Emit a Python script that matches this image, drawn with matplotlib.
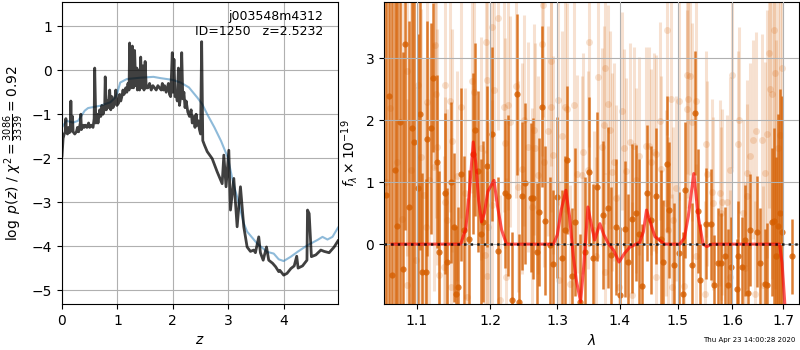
import numpy as np
import matplotlib
matplotlib.use("Agg")
import matplotlib.pyplot as plt
from matplotlib.ticker import FixedLocator, FormatStrFormatter, NullLocator

# ---- left panel: log p(z) ----
z_pz = [0.00, 0.02, 0.04, 0.06, 0.07, 0.08, 0.10, 0.12, 0.13, 0.15, 0.16, 0.17, 0.19, 0.20, 0.23,
        0.26, 0.28, 0.30, 0.33, 0.34, 0.35, 0.38, 0.40, 0.42, 0.45, 0.48, 0.50, 0.53, 0.56, 0.58,
        0.59, 0.61, 0.63, 0.65, 0.68, 0.70, 0.72, 0.74, 0.77, 0.78, 0.80, 0.82, 0.84, 0.86, 0.88,
        0.90, 0.92, 0.95, 0.97, 0.99, 1.02, 1.04, 1.06, 1.08, 1.10, 1.12, 1.15, 1.17, 1.19, 1.21,
        1.22, 1.24, 1.26, 1.27, 1.29, 1.31, 1.33, 1.35, 1.36, 1.38, 1.40, 1.42, 1.44, 1.46, 1.48,
        1.50, 1.52, 1.55, 1.58, 1.61, 1.64, 1.67, 1.70, 1.73, 1.76, 1.79, 1.81, 1.83, 1.85, 1.88,
        1.90, 1.92, 1.94, 1.96, 1.99, 2.00, 2.02, 2.04, 2.06, 2.08, 2.10, 2.12, 2.14, 2.16, 2.18,
        2.20, 2.22, 2.24, 2.27, 2.30, 2.33, 2.35, 2.38, 2.40, 2.42, 2.44, 2.46, 2.48, 2.50, 2.52,
        2.54, 2.57, 2.62, 2.71, 2.80, 2.89, 2.92, 2.96, 3.01, 3.04, 3.10, 3.16, 3.22, 3.28, 3.34,
        3.40, 3.46, 3.49, 3.55, 3.58, 3.63, 3.69, 3.73, 3.80, 3.855, 3.91, 3.93, 4.00, 4.06, 4.13,
        4.19, 4.235, 4.26, 4.34, 4.42, 4.43, 4.46, 4.50, 4.58, 4.67, 4.73, 4.82, 4.91, 4.98]
logp = [-1.95, -1.55, -1.45, -1.40, -1.10, -1.42, -1.45, -1.30, -1.42, -1.40, -0.70, -1.35, -1.05, -1.40, -1.45,
        -1.40, -1.30, -1.40, -1.20, -1.00, -1.35, -1.25, -1.30, -1.25, -1.30, -1.20, -1.30, -1.25, -1.30, -1.10,
        0.05, -1.20, -1.00, -1.20, -0.90, -1.05, -0.80, -1.00, -0.85, -0.15, -0.90, -0.70, -0.85, -0.45, -0.90,
        -0.60, -0.85, -0.75, -0.45, -0.80, -0.75, -0.55, -0.70, -0.60, -0.45, -0.55, -0.40, -0.50, -0.30, -0.45,
        0.62, -0.30, -0.40, 0.55, -0.40, 0.45, -0.35, 0.05, -0.45, 0.00, -0.45, 0.30, -0.40, 0.10, -0.45,
        0.20, -0.40, -0.40, -0.30, -0.45, -0.35, -0.40, -0.45, -0.35, -0.40, -0.45, -0.30, -0.45, -0.35, -0.50,
        -0.40, -0.30, -0.55, -0.60, 0.40, -0.50, 0.25, -0.60, -0.55, -0.70, 0.05, -0.80, -0.60, 0.40, -0.65,
        -0.50, -0.85, -0.70, -0.95, -1.05, -0.90, -1.20, -1.05, -1.30, -1.00, -1.25, -1.15, -1.35, -1.45, 0.65,
        -1.60, -1.70, -1.85, -2.01, -2.31, -2.58, -1.93, -2.65, -1.82, -3.18, -2.46, -3.56, -2.65, -3.56, -4.02,
        -4.12, -4.09, -4.15, -3.79, -4.15, -4.32, -4.02, -4.32, -4.39, -4.47, -4.58, -4.55, -4.66, -4.62, -4.51,
        -4.45, -4.23, -4.50, -4.45, -4.32, -3.18, -3.26, -4.24, -4.20, -4.09, -4.12, -4.15, -4.02, -3.88]

z_prior = [0.00, 0.08, 0.20, 0.29, 0.41, 0.47, 0.68, 0.87, 0.96, 1.00, 1.05, 1.17, 1.41, 1.65, 1.78,
           2.00, 2.14, 2.29, 2.44, 2.53, 2.62, 2.75, 2.87, 2.99, 3.10, 3.16, 3.28, 3.34, 3.52, 3.70,
           3.82, 3.91, 4.00, 4.13, 4.25, 4.43, 4.61, 4.70, 4.79, 4.88, 4.98]
logp_prior = [-1.30, -1.15, -1.19, -1.15, -0.92, -0.86, -0.81, -0.73, -0.62, -0.51, -0.28, -0.20, -0.17, -0.15, -0.18,
              -0.22, -0.28, -0.39, -0.62, -0.77, -1.00, -1.30, -1.61, -1.98, -2.62, -2.88, -3.48, -3.67, -3.94, -4.13,
              -4.17, -4.30, -4.34, -4.24, -4.13, -3.98, -3.86, -3.79, -3.85, -3.79, -3.58]

# ---- right panel: spectrum ----
# binned (dark) points: wavelength, flux, error
lam_bin = [1.0600, 1.0640, 1.0680, 1.0713, 1.0750, 1.0784, 1.0818, 1.0851, 1.0895, 1.0935, 1.0965, 1.1010, 1.1040,
           1.1073, 1.1118, 1.1139, 1.1184, 1.1218, 1.1264, 1.1299,
           1.1370, 1.1405, 1.1453, 1.1493, 1.1520, 1.1551, 1.1596, 1.1637, 1.1708,
           1.1755, 1.1792, 1.1834, 1.1868, 1.1904, 1.1953, 1.2024, 1.2110,
           1.2216, 1.2264, 1.2313, 1.2396, 1.2426, 1.2470, 1.2509, 1.2594, 1.2633, 1.2684,
           1.2719, 1.2769, 1.2810, 1.2886, 1.2937, 1.2989, 1.3066, 1.3118, 1.3154, 1.3232,
           1.3275, 1.3354, 1.3433, 1.3502, 1.3557, 1.3622, 1.3728, 1.3801, 1.3855, 1.3937,
           1.4007, 1.4090, 1.4146, 1.4213, 1.4269, 1.4324, 1.4381, 1.4455, 1.4524, 1.4622,
           1.4697, 1.4737, 1.4802, 1.4854, 1.4930, 1.5019, 1.5097, 1.5139, 1.5252, 1.5310,
           1.5373, 1.5402, 1.5508, 1.5601, 1.5663, 1.5745, 1.5793, 1.5869, 1.5932, 1.5976,
           1.6089, 1.6121, 1.6185, 1.6249, 1.6315, 1.6346, 1.6477, 1.6543, 1.6630, 1.6675,
           1.6776, 1.6823, 1.6864, 1.6900, 1.6940, 1.6980, 1.7176]
flux_bin = [0.80, 2.40, -0.50, 1.20, 0.30, 1.98, -0.40, 3.23, 0.60, 1.88, 1.65, 0.90, 2.10,
            -0.45, -0.45, 1.70, 1.87, 2.69, 1.33, -0.12,
            0.82, -0.29, 1.00, 0.27, -0.80, -0.70, 1.13, 0.23, 0.09,
            1.46, 1.85, 1.18, 0.17, 0.36, 1.26, 1.78, -0.11,
            0.82, 0.78, -0.90, 2.42, -0.93, 0.78, 0.98, 0.75, 0.74, -0.12,
            0.52, 2.22, 0.38, -0.02, -0.32, 0.76, -0.23, 0.23, 1.36, -0.52,
            0.36, -0.93, -0.12, 1.17, -0.23, 0.93, 0.47, 0.59, -0.18, 0.28,
            -0.82, 0.24, -0.29, 0.41, 0.50, 0.17, -0.68, 0.83, 0.39, 0.78,
            0.09, -0.29, 1.30, 0.55, -0.34, -0.15, -0.81, 0.87, -0.34, 2.12,
            0.54, -0.58, 0.33, 0.32, -0.66, -0.31, -0.30, -0.20, -0.66, -0.37,
            -0.72, -0.20, -0.37, 0.06, -0.79, 0.23, 0.20, -0.31, -0.65, -0.66,
            0.36, 0.38, -0.20, 0.30, 0.50, 0.20, -0.20]
err_bin = [5.0, 5.0, 5.0, 4.0, 4.0, 3.5, 3.5, 3.0, 3.0, 3.0, 2.8, 2.5, 2.2,
           1.6, 1.5, 1.9, 1.7, 1.2, 1.4, 1.3,
           1.3, 1.2, 1.3, 1.2, 1.1, 1.3, 1.4, 1.2, 1.1,
           1.3, 1.4, 1.3, 1.2, 1.3, 1.3, 1.4, 1.2,
           1.2, 1.3, 1.1, 1.3, 1.1, 1.2, 1.3, 1.2, 1.3, 1.1,
           1.2, 1.3, 1.2, 1.1, 1.2, 1.3, 1.1, 1.2, 1.2, 1.1,
           1.2, 1.1, 1.2, 1.2, 1.2, 1.2, 1.2, 1.3, 1.1, 1.1,
           1.1, 1.1, 1.1, 1.2, 1.1, 1.2, 1.0, 1.1, 1.2, 1.1,
           1.1, 1.0, 1.1, 1.1, 1.0, 1.0, 1.0, 1.1, 1.0, 1.0,
           1.0, 0.9, 0.9, 0.9, 0.8, 0.9, 0.8, 0.8, 0.9, 0.8,
           0.8, 0.9, 0.8, 0.9, 0.8, 0.9, 0.9, 0.9, 0.9, 1.0,
           1.2, 1.5, 1.6, 1.8, 2.0, 2.2, 0.6]

# unbinned (light) points
lam_raw = [1.0600, 1.0660, 1.0748, 1.0810, 1.0870, 1.0878, 1.0930, 1.0987, 1.1017, 1.1060, 1.1095, 1.1118,
           1.1139, 1.1160, 1.1227, 1.1235, 1.1248, 1.1272, 1.1290, 1.1356, 1.1370, 1.1382, 1.1405, 1.1444,
           1.1453, 1.1474, 1.1540, 1.1596, 1.1656, 1.1678, 1.1750, 1.1773, 1.1868, 1.1925, 1.1939, 1.1953,
           1.1962, 1.1967, 1.2024, 1.2028, 1.2061, 1.2110, 1.2143, 1.2206, 1.2216, 1.2225, 1.2255, 1.2288,
           1.2372, 1.2411, 1.2461, 1.2499, 1.2562, 1.2609, 1.2648, 1.2658, 1.2709, 1.2760, 1.2785, 1.2798,
           1.2851, 1.2896, 1.2900, 1.2937, 1.3014, 1.3020, 1.3066, 1.3118, 1.3144, 1.3195, 1.3264, 1.3302,
           1.3381, 1.3406, 1.3486, 1.3502, 1.3578, 1.3606, 1.3652, 1.3710, 1.3744, 1.3750, 1.3761, 1.3801,
           1.3838, 1.3880, 1.3908, 1.3937, 1.3990, 1.4035, 1.4073, 1.4104, 1.4169, 1.4213, 1.4241, 1.4269,
           1.4324, 1.4449, 1.4494, 1.4524, 1.4579, 1.4610, 1.4622, 1.4684, 1.4697, 1.4785, 1.4813, 1.4820,
           1.4889, 1.4907, 1.4919, 1.4962, 1.5019, 1.5107, 1.5165, 1.5170, 1.5192, 1.5220, 1.5252, 1.5328,
           1.5335, 1.5496, 1.5514, 1.5527, 1.5621, 1.5651, 1.5774, 1.5790, 1.5807, 1.5899, 1.5962, 1.5970,
           1.5995, 1.6121, 1.6141, 1.6217, 1.6249, 1.6282, 1.6295, 1.6346, 1.6412, 1.6444, 1.6464, 1.6579,
           1.6600, 1.6645, 1.6679, 1.6713, 1.6733, 1.6779, 1.6813, 1.6846, 1.6850, 1.6894, 1.6947, 1.6981]
flux_raw = [1.00, 2.20, 1.33, 0.40, 2.80, -0.66, 1.20, -0.26, 2.57, 1.40, 0.79, 0.28,
            2.30, 1.03, 1.25, 3.21, 2.42, 1.57, -0.50, -0.37, 2.57, 0.68, 0.39, 2.32,
            -0.69, 1.67, 1.10, 2.22, 0.82, -0.85, 2.63, 2.46, 1.55, -0.18, 3.27, -0.52,
            2.65, 0.27, 3.51, 0.63, 2.49, 3.65, -0.90, 2.22, 1.63, -0.53, 2.25, 1.98,
            2.55, 0.93, 1.22, 2.00, 1.57, 0.60, 1.85, 1.55, 1.11, 3.23, 3.86, 1.33,
            1.83, 2.96, 2.22, 1.44, 2.33, -0.58, 1.74, 2.22, 2.19, -0.64, 2.25, 1.14,
            1.11, 1.49, 1.20, 3.27, 0.23, -0.20, 2.70, 1.57, 1.92, -0.45, 2.84, 2.27,
            1.85, 1.17, 1.33, 0.74, -0.69, 2.15, 1.55, 1.18, 1.65, -0.82, 1.58, 1.03,
            1.42, 1.59, 1.59, 1.33, 1.49, -0.53, 1.45, 1.99, 1.22, 0.66, 3.46, 0.23,
            2.35, -0.69, 0.39, 0.90, 2.32, -0.68, 2.73, 2.19, 2.35, 2.71, 1.98, 2.32,
            -0.20, -0.80, 1.62, 1.14, 0.85, 0.66, 0.83, 0.50, 0.68, 0.68, 1.20, -0.53,
            2.73, 1.62, 2.00, 0.51, -0.39, 1.15, 0.77, 1.42, 1.69, -0.80, 1.83, 1.69,
            -0.66, 1.15, 1.78, 3.08, 2.51, 2.43, 3.46, 2.77, -0.20, 1.55, 1.76, 2.84]
err_raw = [4.0, 4.0, 3.5, 3.5, 3.0, 3.0, 2.8, 2.8, 2.5, 2.4, 2.2, 2.0,
           2.0, 2.0, 2.0, 2.0, 2.0, 1.9, 1.8, 1.8, 1.8, 1.7, 1.8, 1.8,
           1.7, 1.8, 1.7, 1.8, 1.7, 1.6, 1.8, 1.7, 1.8, 1.7, 1.8, 1.7,
           1.8, 1.7, 1.8, 1.7, 1.8, 1.8, 1.7, 1.7, 1.7, 1.6, 1.7, 1.7,
           1.8, 1.7, 1.7, 1.7, 1.7, 1.6, 1.7, 1.7, 1.6, 1.8, 1.8, 1.7,
           1.7, 1.7, 1.7, 1.6, 1.7, 1.6, 1.7, 1.7, 1.7, 1.6, 1.7, 1.6,
           1.6, 1.6, 1.6, 1.7, 1.6, 1.6, 1.7, 1.6, 1.6, 1.6, 1.7, 1.6,
           1.6, 1.6, 1.6, 1.5, 1.5, 1.6, 1.6, 1.5, 1.6, 1.5, 1.6, 1.5,
           1.6, 1.6, 1.6, 1.5, 1.6, 1.5, 1.6, 1.6, 1.5, 1.5, 1.7, 1.5,
           1.6, 1.5, 1.5, 1.5, 1.6, 1.5, 1.6, 1.6, 1.6, 1.6, 1.6, 1.6,
           1.5, 1.5, 1.5, 1.5, 1.5, 1.4, 1.5, 1.4, 1.5, 1.4, 1.5, 1.4,
           1.5, 1.5, 1.5, 1.5, 1.4, 1.5, 1.5, 1.5, 1.6, 1.5, 1.6, 1.7,
           1.6, 1.8, 2.0, 2.5, 2.5, 3.0, 3.5, 3.5, 3.5, 3.5, 4.0, 4.0]

# best-fit line model
lam_model = [1.068, 1.100, 1.140, 1.159, 1.166, 1.171, 1.1764, 1.180, 1.184, 1.188, 1.192, 1.197,
              1.2057, 1.211, 1.2167, 1.2239, 1.250, 1.280, 1.294, 1.300, 1.306, 1.3133, 1.319, 1.325,
              1.3300, 1.3365, 1.342, 1.3481, 1.354, 1.359, 1.3674, 1.374, 1.3812, 1.390, 1.399, 1.408,
              1.4169, 1.4339, 1.440, 1.4454, 1.452, 1.460, 1.4684, 1.477, 1.5037, 1.512, 1.519, 1.5289,
              1.537, 1.5459, 1.5527, 1.562, 1.600, 1.650, 1.6931, 1.698, 1.7031, 1.706]
flux_model = [0.0, 0.0, 0.0, 0.0, 0.25, 0.85, 1.65, 1.30, 0.70, 0.36, 0.50, 0.85,
              1.03, 0.60, 0.23, 0.0, 0.0, 0.0, 0.0, 0.15, 0.55, 0.87, 0.45, -0.20,
              -0.60, -0.93, -0.30, 0.60, 0.30, 0.065, 0.33, 0.15, 0.01, -0.10, -0.29, -0.15,
              -0.05, 0.03, 0.20, 0.55, 0.35, 0.12, 0.06, 0.0, 0.0, 0.10, 0.45, 1.14,
              0.45, 0.0, -0.04, 0.0, 0.0, 0.0, 0.0, -0.30, -0.90, -1.30]

date_str = "Thu Apr 23 14:00:28 2020"
orange = (0.8352941176470589, 0.3686274509803922, 0.0)

fig = plt.figure(figsize=(8, 3.5), dpi=100)
ax1 = fig.add_axes([0.0775, 0.131, 0.345, 0.863])
ax2 = fig.add_axes([0.480, 0.131, 0.519, 0.863])

# left: p(z)
ax1.plot(z_prior, logp_prior, color="#1f77b4", alpha=0.5, lw=1.5)
ax1.plot(z_pz, logp, color="k", alpha=0.75, lw=2)
ax1.set_xlim(0, 4.98)
ax1.set_ylim(-5.32, 1.55)
ax1.set_xticks([0, 1, 2, 3, 4])
ax1.set_yticks([-5, -4, -3, -2, -1, 0, 1])
ax1.grid(True)
ax1.set_xlabel(r"$z$")
ax1.set_ylabel(r"$\log\ p(z)$ / $\chi^2=\frac{3086}{3339}=0.92$")
ax1.text(0.945, 0.975, "j003548m4312\nID=1250   z=2.5232", transform=ax1.transAxes,
         ha="right", va="top", fontsize=9, linespacing=1.2)

# right: spectrum
ax2.errorbar(lam_raw, flux_raw, yerr=err_raw, fmt="o", color=orange, alpha=0.18,
             ms=5, mec="none", elinewidth=2.2, capsize=0)
ax2.errorbar(lam_bin, flux_bin, yerr=err_bin, fmt="o", color=orange, alpha=0.8,
             ms=4.5, mec="none", elinewidth=1.8, capsize=0)
ax2.plot(lam_model, flux_model, color="r", alpha=0.65, lw=2.2, zorder=10)
ax2.set_xscale("log")
ax2.set_xlim(1.058, 1.733)
ax2.set_ylim(-0.97, 3.91)
ax2.plot([1.058, 1.733], [0, 0], color="k", ls=":", lw=1.8, alpha=0.85, zorder=11)
ax2.xaxis.set_major_locator(FixedLocator([1.1, 1.2, 1.3, 1.4, 1.5, 1.6, 1.7]))
ax2.xaxis.set_major_formatter(FormatStrFormatter("%.1f"))
ax2.xaxis.set_minor_locator(NullLocator())
ax2.set_yticks([0, 1, 2, 3])
ax2.set_axisbelow(False)
ax2.grid(True)
ax2.set_xlabel(r"$\lambda$")
ax2.set_ylabel(r"$f_\lambda\times10^{-19}$")

fig.text(0.994, 0.028, date_str, ha="right", va="center", fontsize=5)

fig.savefig("out.png", dpi=100)
